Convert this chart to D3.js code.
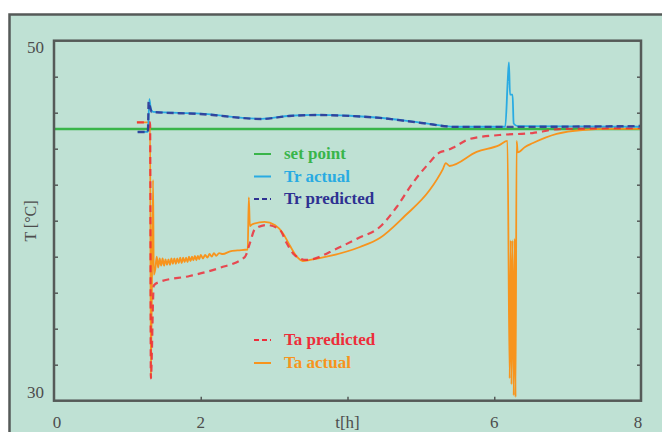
<!DOCTYPE html>
<html>
<head>
<meta charset="utf-8">
<script src="https://cdn.jsdelivr.net/npm/d3@7"></script>
<style>
  html, body { margin: 0; padding: 0; background: #ffffff; }
  svg { display: block; }
</style>
</head>
<body>
<script>
// Reactor temperature Tr and ambient/jacket temperature Ta over time, [t (h), T (°C)]
const setPoint = 45.1;

const trPredicted = [
  [1.14, 44.93], [1.28, 44.93], [1.29, 46.6], [1.31, 46.3], [1.33, 46.04], [1.99, 45.93],
  [2.83, 45.65], [3.21, 45.82], [3.57, 45.87], [4.03, 45.82], [4.44, 45.71],
  [5.01, 45.43], [5.47, 45.21], [6.07, 45.21], [8.0, 45.26]
];

const trActual = [
  [1.14, 44.93], [1.28, 44.93], [1.30, 46.75], [1.32, 46.2], [1.35, 46.05], [1.99, 45.95],
  [2.83, 45.66], [3.21, 45.83], [3.57, 45.88], [4.03, 45.83], [4.44, 45.72],
  [5.01, 45.44], [5.47, 45.22], [6.15, 45.22], [6.185, 47.9], [6.20, 48.8],
  [6.215, 47.0], [6.25, 47.0], [6.264, 45.4], [6.32, 45.25], [8.0, 45.22]
];

const taPredicted = [
  [1.13, 45.46], [1.31, 45.46], [1.32, 31.24], [1.36, 36.4], [1.44, 36.6],
  [1.85, 36.93], [2.25, 37.37], [2.60, 37.98], [2.67, 38.76], [2.74, 39.54],
  [2.90, 39.76], [3.08, 39.48], [3.17, 38.76], [3.28, 38.09], [3.44, 37.82],
  [3.87, 38.48], [4.15, 39.04], [4.44, 39.65], [4.67, 40.76], [4.89, 42.1],
  [5.09, 43.1], [5.26, 43.8], [5.35, 43.9], [5.46, 44.1], [5.66, 44.54],
  [6.07, 44.76], [6.52, 44.87], [6.89, 45.09], [8.0, 45.15]
];

const taActual = [
  [1.13, 45.46], [1.31, 45.46], [1.32, 31.24], [1.35, 42.26], [1.36, 37.0],
  [1.38, 37.3], [1.40, 38.0], [1.42, 37.4], [1.44, 37.9], [1.46, 37.5], [1.48, 37.9],
  [1.50, 37.5], [1.52, 37.85], [1.54, 37.55], [1.56, 37.85], [1.58, 37.55], [1.60, 37.9],
  [1.62, 37.6], [1.64, 37.9], [1.66, 37.6], [1.68, 37.9], [1.70, 37.65], [1.72, 37.95],
  [1.74, 37.65], [1.76, 37.95], [1.78, 37.7], [1.80, 37.95], [1.82, 37.7], [1.84, 38.0],
  [1.86, 37.75], [1.88, 38.0], [1.90, 37.8], [1.92, 38.05], [1.94, 37.8], [1.96, 38.05],
  [1.98, 37.85], [2.00, 38.1], [2.03, 37.9], [2.06, 38.1], [2.09, 37.95], [2.12, 38.15],
  [2.15, 38.0], [2.18, 38.2], [2.21, 38.05], [2.25, 38.2], [2.30, 38.15], [2.40, 38.3],
  [2.50, 38.35], [2.64, 38.4],
  [2.655, 41.3], [2.67, 39.7], [2.70, 39.8], [2.87, 39.93], [3.01, 39.76],
  [3.12, 39.3], [3.21, 38.65], [3.31, 38.0], [3.39, 37.76], [3.49, 37.82],
  [3.76, 38.04], [4.17, 38.54], [4.44, 39.04], [4.78, 40.26], [5.12, 41.7],
  [5.30, 42.87], [5.34, 43.2], [5.39, 43.04], [5.76, 43.82], [6.07, 44.2],
  [6.18, 44.43], [6.21, 31.24], [6.225, 38.9], [6.235, 30.9], [6.25, 38.9],
  [6.265, 30.3], [6.28, 39.0], [6.29, 30.2], [6.305, 44.43], [6.32, 43.8],
  [6.42, 44.1], [6.52, 44.3], [6.85, 44.82], [7.20, 45.04], [7.57, 45.1], [8.0, 45.1]
];

const xTickValues = [0, 2, 4, 6, 8];
const xTickLabels = ["0", "2", "t[h]", "6", "8"];
const yTickValues = [32, 34, 36, 38, 40, 42, 44, 46, 48];
const yLabelValues = [50, 30];

const legendTop = [
  { label: "set point", color: "#39b54a", text: "#39b54a", dash: null },
  { label: "Tr actual", color: "#29abe2", text: "#29abe2", dash: null },
  { label: "Tr predicted", color: "#2e3192", text: "#2e3192", dash: "5,3" }
];
const legendBottom = [
  { label: "Ta predicted", color: "#ed2d3a", text: "#ed2d3a", dash: "5,3" },
  { label: "Ta actual", color: "#f7941d", text: "#f7941d", dash: null }
];

const W = 662, H = 432;
const bg = "#bfe1d4";
const axisColor = "#555a58";
const plot = { left: 54, right: 641, top: 40.7, bottom: 400.7 };

const svg = d3.select("body").append("svg")
  .attr("width", W).attr("height", H);

// panel background and outer frame
svg.append("rect").attr("x", 0).attr("y", 0).attr("width", W).attr("height", H).attr("fill", "#ffffff");
svg.append("rect").attr("x", 9.5).attr("y", 14.5).attr("width", W).attr("height", H)
  .attr("fill", bg).attr("stroke", axisColor).attr("stroke-width", 2.5);

const x = d3.scaleLinear().domain([0, 8]).range([plot.left, plot.right]);
const y = d3.scaleLinear().domain([30, 50]).range([plot.bottom, plot.top]);

// inward ticks on left, right and bottom
const left = d3.axisRight(y).tickValues(yTickValues).tickSize(4).tickFormat("");
const right = d3.axisLeft(y).tickValues(yTickValues).tickSize(4).tickFormat("");
const bottom = d3.axisTop(x).tickValues([2, 4, 6]).tickSize(4).tickFormat("");

function styleAxis(g) {
  g.select(".domain").remove();
  g.selectAll(".tick line").attr("stroke", axisColor).attr("stroke-width", 1.5);
}
svg.append("g").attr("transform", `translate(${plot.left},0)`).call(left).call(styleAxis);
svg.append("g").attr("transform", `translate(${plot.right},0)`).call(right).call(styleAxis);
svg.append("g").attr("transform", `translate(0,${plot.bottom})`).call(bottom).call(styleAxis);

const line = d3.line().x(d => x(d[0])).y(d => y(d[1])).curve(d3.curveMonotoneX);

// set point
svg.append("line")
  .attr("x1", x(0)).attr("x2", x(8)).attr("y1", y(setPoint)).attr("y2", y(setPoint))
  .attr("stroke", "#39b54a").attr("stroke-width", 2.5);

// series
svg.append("path").datum(taActual).attr("d", line)
  .attr("fill", "none").attr("stroke", "#f7941d").attr("stroke-width", 1.8)
  .attr("stroke-linejoin", "round");
svg.append("path").datum(taPredicted).attr("d", line)
  .attr("fill", "none").attr("stroke", "#ed2d3a").attr("stroke-width", 2.2)
  .attr("stroke-dasharray", "7,5").attr("opacity", 0.85);
svg.append("path").datum(trActual).attr("d", line)
  .attr("fill", "none").attr("stroke", "#29abe2").attr("stroke-width", 1.8)
  .attr("stroke-linejoin", "round");
svg.append("path").datum(trPredicted).attr("d", line)
  .attr("fill", "none").attr("stroke", "#2e3192").attr("stroke-width", 2.4)
  .attr("stroke-dasharray", "7,4").attr("opacity", 0.85);

// plot frame
svg.append("rect")
  .attr("x", plot.left).attr("y", plot.top)
  .attr("width", plot.right - plot.left).attr("height", plot.bottom - plot.top)
  .attr("fill", "none").attr("stroke", axisColor).attr("stroke-width", 2.5);

const font = "'Liberation Serif', 'DejaVu Serif', serif";

// tick labels
svg.selectAll(".ylab").data(yLabelValues).enter().append("text")
  .attr("x", 44)
  .attr("y", d => d === 50 ? y(d) + 12 : y(d) - 3)
  .attr("text-anchor", "end")
  .attr("font-family", font).attr("font-size", 17)
  .attr("fill", "#4d4d4d")
  .text(d => d);

svg.selectAll(".xlab").data(xTickValues).enter().append("text")
  .attr("x", (d, i) => x(d) + (i === 0 ? 3 : (i === xTickValues.length - 1 ? -3 : 0)))
  .attr("y", 428)
  .attr("text-anchor", "middle")
  .attr("font-family", font).attr("font-size", 17)
  .attr("fill", "#4d4d4d")
  .text((d, i) => xTickLabels[i]);

// y title
svg.append("text")
  .attr("transform", "translate(36,221) rotate(-90)")
  .attr("text-anchor", "middle")
  .attr("font-family", font).attr("font-size", 16)
  .attr("fill", "#4d4d4d")
  .text("T [°C]");

// legends
function drawLegend(items, y0, step) {
  const g = svg.append("g");
  items.forEach((it, i) => {
    const yy = y0 + i * step;
    g.append("line")
      .attr("x1", 254).attr("x2", 271).attr("y1", yy).attr("y2", yy)
      .attr("stroke", it.color).attr("stroke-width", 2)
      .attr("stroke-dasharray", it.dash);
    g.append("text")
      .attr("x", 284).attr("y", yy + 5)
      .attr("font-family", font).attr("font-size", 17).attr("font-weight", "bold")
      .attr("fill", it.text)
      .text(it.label);
  });
}
drawLegend(legendTop, 154, 22.5);
drawLegend(legendBottom, 340, 23);
</script>
</body>
</html>
